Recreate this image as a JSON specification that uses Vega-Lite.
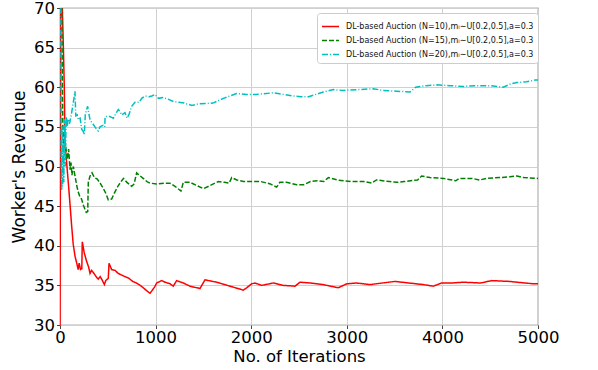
{
  "$schema": "https://vega.github.io/schema/vega-lite/v6.json",
  "width": 478,
  "height": 317,
  "autosize": {"type": "none"},
  "padding": {"left": 60, "top": 8, "right": 60, "bottom": 45},
  "background": "white",
  "config": {
    "view": {"stroke": "#666", "strokeWidth": 1.2},
    "font": "DejaVu Sans",
    "axis": {"labelFont": "DejaVu Sans", "titleFont": "DejaVu Sans", "labelColor": "#000", "titleColor": "#000", "titleFontWeight": "normal", "gridColor": "#d0d0d0", "gridWidth": 1, "domain": false, "tickColor": "#444", "tickSize": 3.5}
  },
  "data": {"values": [
    {"s":"N=10","x":0,"y":25},{"s":"N=10","x":10,"y":90},{"s":"N=10","x":20,"y":72},{"s":"N=10","x":35,"y":65.2},{"s":"N=10","x":45,"y":60},{"s":"N=10","x":52,"y":53},{"s":"N=10","x":90,"y":47.5},{"s":"N=10","x":122,"y":42.5},{"s":"N=10","x":138,"y":40.2},{"s":"N=10","x":157,"y":38.7},{"s":"N=10","x":175,"y":37.8},{"s":"N=10","x":190,"y":37},{"s":"N=10","x":200,"y":37.8},{"s":"N=10","x":215,"y":37},{"s":"N=10","x":228,"y":37.1},{"s":"N=10","x":233,"y":40.5},{"s":"N=10","x":254,"y":39.1},{"s":"N=10","x":279,"y":38},{"s":"N=10","x":300,"y":37.3},{"s":"N=10","x":314,"y":36.5},{"s":"N=10","x":330,"y":36.9},{"s":"N=10","x":350,"y":36.6},{"s":"N=10","x":384,"y":36},{"s":"N=10","x":400,"y":35.8},{"s":"N=10","x":420,"y":36.1},{"s":"N=10","x":440,"y":35.7},{"s":"N=10","x":464,"y":35.1},{"s":"N=10","x":478,"y":35.6},{"s":"N=10","x":505,"y":35.9},{"s":"N=10","x":513,"y":37.8},{"s":"N=10","x":540,"y":37},{"s":"N=10","x":575,"y":36.9},{"s":"N=10","x":610,"y":36.5},{"s":"N=10","x":645,"y":36.3},{"s":"N=10","x":680,"y":36.1},{"s":"N=10","x":720,"y":35.9},{"s":"N=10","x":760,"y":35.5},{"s":"N=10","x":800,"y":35.3},{"s":"N=10","x":850,"y":34.9},{"s":"N=10","x":900,"y":34.4},{"s":"N=10","x":941,"y":34},{"s":"N=10","x":960,"y":34.3},{"s":"N=10","x":990,"y":34.8},{"s":"N=10","x":1011,"y":35.3},{"s":"N=10","x":1063,"y":35.6},{"s":"N=10","x":1100,"y":35.4},{"s":"N=10","x":1150,"y":35.2},{"s":"N=10","x":1185,"y":34.9},{"s":"N=10","x":1220,"y":35.6},{"s":"N=10","x":1290,"y":35.3},{"s":"N=10","x":1360,"y":34.9},{"s":"N=10","x":1464,"y":34.6},{"s":"N=10","x":1517,"y":35.7},{"s":"N=10","x":1639,"y":35.4},{"s":"N=10","x":1778,"y":34.9},{"s":"N=10","x":1918,"y":34.4},{"s":"N=10","x":1953,"y":34.7},{"s":"N=10","x":2005,"y":35.2},{"s":"N=10","x":2040,"y":35.3},{"s":"N=10","x":2110,"y":35},{"s":"N=10","x":2231,"y":35.3},{"s":"N=10","x":2336,"y":35},{"s":"N=10","x":2458,"y":34.9},{"s":"N=10","x":2510,"y":35.4},{"s":"N=10","x":2615,"y":35.3},{"s":"N=10","x":2750,"y":35.1},{"s":"N=10","x":2911,"y":34.7},{"s":"N=10","x":3000,"y":35.2},{"s":"N=10","x":3100,"y":35.3},{"s":"N=10","x":3242,"y":35.1},{"s":"N=10","x":3504,"y":35.5},{"s":"N=10","x":3650,"y":35.3},{"s":"N=10","x":3800,"y":35.1},{"s":"N=10","x":3905,"y":34.9},{"s":"N=10","x":3992,"y":35.3},{"s":"N=10","x":4100,"y":35.3},{"s":"N=10","x":4220,"y":35.4},{"s":"N=10","x":4400,"y":35.3},{"s":"N=10","x":4515,"y":35.6},{"s":"N=10","x":4700,"y":35.5},{"s":"N=10","x":4950,"y":35.2},{"s":"N=10","x":5000,"y":35.2},
    {"s":"N=15","x":0,"y":95},{"s":"N=15","x":10,"y":80},{"s":"N=15","x":20,"y":68},{"s":"N=15","x":25,"y":60},{"s":"N=15","x":30,"y":55},{"s":"N=15","x":40,"y":52.2},{"s":"N=15","x":55,"y":53},{"s":"N=15","x":75,"y":50.9},{"s":"N=15","x":90,"y":52.2},{"s":"N=15","x":105,"y":49.6},{"s":"N=15","x":115,"y":50.5},{"s":"N=15","x":125,"y":48.9},{"s":"N=15","x":139,"y":50},{"s":"N=15","x":157,"y":48.8},{"s":"N=15","x":175,"y":47.6},{"s":"N=15","x":190,"y":46.8},{"s":"N=15","x":205,"y":46.3},{"s":"N=15","x":225,"y":45.9},{"s":"N=15","x":245,"y":45.1},{"s":"N=15","x":261,"y":44.6},{"s":"N=15","x":275,"y":44.2},{"s":"N=15","x":290,"y":44.3},{"s":"N=15","x":296,"y":48},{"s":"N=15","x":314,"y":48.8},{"s":"N=15","x":335,"y":49.2},{"s":"N=15","x":360,"y":48.6},{"s":"N=15","x":390,"y":48.4},{"s":"N=15","x":420,"y":47.9},{"s":"N=15","x":450,"y":47.3},{"s":"N=15","x":480,"y":46.6},{"s":"N=15","x":505,"y":45.8},{"s":"N=15","x":540,"y":45.9},{"s":"N=15","x":575,"y":46.8},{"s":"N=15","x":610,"y":47.6},{"s":"N=15","x":645,"y":48.2},{"s":"N=15","x":665,"y":48.5},{"s":"N=15","x":700,"y":48},{"s":"N=15","x":750,"y":47.5},{"s":"N=15","x":775,"y":47.8},{"s":"N=15","x":802,"y":49.2},{"s":"N=15","x":830,"y":48.9},{"s":"N=15","x":870,"y":48.5},{"s":"N=15","x":910,"y":48.1},{"s":"N=15","x":941,"y":47.9},{"s":"N=15","x":1010,"y":47.8},{"s":"N=15","x":1100,"y":47.9},{"s":"N=15","x":1150,"y":47.9},{"s":"N=15","x":1203,"y":47.5},{"s":"N=15","x":1265,"y":46.9},{"s":"N=15","x":1290,"y":48},{"s":"N=15","x":1360,"y":48},{"s":"N=15","x":1430,"y":47.6},{"s":"N=15","x":1500,"y":47.2},{"s":"N=15","x":1570,"y":47.6},{"s":"N=15","x":1656,"y":48.1},{"s":"N=15","x":1720,"y":48},{"s":"N=15","x":1770,"y":47.9},{"s":"N=15","x":1796,"y":48.6},{"s":"N=15","x":1850,"y":48.3},{"s":"N=15","x":1920,"y":48.1},{"s":"N=15","x":1990,"y":48.1},{"s":"N=15","x":2100,"y":48.1},{"s":"N=15","x":2200,"y":47.8},{"s":"N=15","x":2266,"y":47.4},{"s":"N=15","x":2300,"y":48},{"s":"N=15","x":2370,"y":48},{"s":"N=15","x":2476,"y":47.7},{"s":"N=15","x":2550,"y":47.7},{"s":"N=15","x":2620,"y":48.1},{"s":"N=15","x":2690,"y":48.2},{"s":"N=15","x":2760,"y":48.1},{"s":"N=15","x":2807,"y":48.6},{"s":"N=15","x":2900,"y":48.3},{"s":"N=15","x":3040,"y":48.1},{"s":"N=15","x":3180,"y":48.1},{"s":"N=15","x":3260,"y":47.9},{"s":"N=15","x":3310,"y":48.3},{"s":"N=15","x":3450,"y":48.1},{"s":"N=15","x":3530,"y":48},{"s":"N=15","x":3600,"y":48.1},{"s":"N=15","x":3740,"y":48.3},{"s":"N=15","x":3783,"y":48.8},{"s":"N=15","x":3870,"y":48.6},{"s":"N=15","x":4010,"y":48.5},{"s":"N=15","x":4140,"y":48.2},{"s":"N=15","x":4175,"y":48.5},{"s":"N=15","x":4310,"y":48.5},{"s":"N=15","x":4390,"y":48.3},{"s":"N=15","x":4460,"y":48.5},{"s":"N=15","x":4600,"y":48.6},{"s":"N=15","x":4707,"y":48.7},{"s":"N=15","x":4780,"y":48.8},{"s":"N=15","x":4850,"y":48.6},{"s":"N=15","x":5000,"y":48.5},
    {"s":"N=20","x":0,"y":95},{"s":"N=20","x":8,"y":75},{"s":"N=20","x":12,"y":52},{"s":"N=20","x":18,"y":47},{"s":"N=20","x":22,"y":55},{"s":"N=20","x":28,"y":47.5},{"s":"N=20","x":35,"y":53},{"s":"N=20","x":40,"y":48},{"s":"N=20","x":45,"y":56},{"s":"N=20","x":55,"y":50},{"s":"N=20","x":65,"y":56.3},{"s":"N=20","x":75,"y":55},{"s":"N=20","x":85,"y":56},{"s":"N=20","x":100,"y":55.4},{"s":"N=20","x":122,"y":56.8},{"s":"N=20","x":139,"y":58.1},{"s":"N=20","x":157,"y":59.5},{"s":"N=20","x":165,"y":56.4},{"s":"N=20","x":180,"y":56.5},{"s":"N=20","x":192,"y":55.9},{"s":"N=20","x":210,"y":56.1},{"s":"N=20","x":227,"y":54.7},{"s":"N=20","x":244,"y":54.4},{"s":"N=20","x":254,"y":54},{"s":"N=20","x":265,"y":56.6},{"s":"N=20","x":289,"y":57.6},{"s":"N=20","x":300,"y":56.8},{"s":"N=20","x":314,"y":55.9},{"s":"N=20","x":330,"y":55.6},{"s":"N=20","x":349,"y":55.3},{"s":"N=20","x":366,"y":55},{"s":"N=20","x":384,"y":54.7},{"s":"N=20","x":400,"y":54.5},{"s":"N=20","x":418,"y":55},{"s":"N=20","x":450,"y":55.2},{"s":"N=20","x":468,"y":55},{"s":"N=20","x":472,"y":56.3},{"s":"N=20","x":520,"y":56.3},{"s":"N=20","x":540,"y":56.2},{"s":"N=20","x":558,"y":56.1},{"s":"N=20","x":590,"y":56.8},{"s":"N=20","x":610,"y":57.2},{"s":"N=20","x":630,"y":56.9},{"s":"N=20","x":645,"y":56.5},{"s":"N=20","x":680,"y":56.8},{"s":"N=20","x":700,"y":56.1},{"s":"N=20","x":720,"y":56.5},{"s":"N=20","x":750,"y":57.6},{"s":"N=20","x":785,"y":58.1},{"s":"N=20","x":830,"y":58.1},{"s":"N=20","x":855,"y":58.6},{"s":"N=20","x":890,"y":58.9},{"s":"N=20","x":930,"y":58.8},{"s":"N=20","x":960,"y":58.9},{"s":"N=20","x":994,"y":59.1},{"s":"N=20","x":1030,"y":58.6},{"s":"N=20","x":1080,"y":58.7},{"s":"N=20","x":1130,"y":58.5},{"s":"N=20","x":1185,"y":58.2},{"s":"N=20","x":1300,"y":58},{"s":"N=20","x":1380,"y":57.7},{"s":"N=20","x":1450,"y":57.9},{"s":"N=20","x":1600,"y":58},{"s":"N=20","x":1709,"y":58.6},{"s":"N=20","x":1848,"y":59.2},{"s":"N=20","x":1950,"y":59.1},{"s":"N=20","x":2050,"y":59.1},{"s":"N=20","x":2232,"y":59.3},{"s":"N=20","x":2336,"y":59.1},{"s":"N=20","x":2440,"y":58.9},{"s":"N=20","x":2520,"y":58.8},{"s":"N=20","x":2600,"y":58.8},{"s":"N=20","x":2755,"y":59.4},{"s":"N=20","x":2860,"y":59.7},{"s":"N=20","x":2960,"y":59.6},{"s":"N=20","x":3100,"y":59.7},{"s":"N=20","x":3279,"y":59.8},{"s":"N=20","x":3380,"y":59.6},{"s":"N=20","x":3520,"y":59.5},{"s":"N=20","x":3662,"y":59.4},{"s":"N=20","x":3720,"y":60},{"s":"N=20","x":3830,"y":60.2},{"s":"N=20","x":3941,"y":60.3},{"s":"N=20","x":4080,"y":60.2},{"s":"N=20","x":4220,"y":60.1},{"s":"N=20","x":4360,"y":60.2},{"s":"N=20","x":4500,"y":60.2},{"s":"N=20","x":4637,"y":60},{"s":"N=20","x":4710,"y":60.4},{"s":"N=20","x":4780,"y":60.6},{"s":"N=20","x":4880,"y":60.7},{"s":"N=20","x":4970,"y":60.9},{"s":"N=20","x":5000,"y":60.9}
  ]},
  "mark": {"type": "line", "clip": true, "strokeWidth": 1.5, "interpolate": "linear"},
  "encoding": {
    "x": {"field": "x", "type": "quantitative", "scale": {"domain": [0, 5000], "nice": false},
      "axis": {"title": "No. of Iterations", "values": [0, 1000, 2000, 3000, 4000, 5000], "format": "d", "labelFontSize": 16.5, "titleFontSize": 16.5, "labelPadding": 1, "titlePadding": 2, "labelFlush": false}},
    "y": {"field": "y", "type": "quantitative", "scale": {"domain": [30, 70], "nice": false, "zero": false},
      "axis": {"title": "Worker's Revenue", "values": [30, 35, 40, 45, 50, 55, 60, 65, 70], "labelFontSize": 16.5, "titleFontSize": 17, "labelPadding": 2, "titlePadding": 5, "labelFlush": false}},
    "color": {"field": "s", "type": "nominal",
      "scale": {"domain": ["N=10", "N=15", "N=20"], "range": ["#ff0000", "#008000", "#00bfbf"]},
      "legend": {"title": null, "orient": "none", "legendX": 257, "legendY": 5, "symbolType": "stroke", "symbolSize": 289, "symbolStrokeWidth": 1.5, "labelFontSize": 8, "labelFont": "DejaVu Sans", "labelColor": "#111", "labelLimit": 400, "labelOffset": 6, "rowPadding": -5, "padding": 4, "strokeColor": "#cccccc", "fillColor": "white", "cornerRadius": 3,
        "labelExpr": "'DL-based Auction (' + datum.label + '),mᵢ∼U[0.2,0.5],a=0.3'"}},
    "strokeDash": {"field": "s", "type": "nominal",
      "scale": {"domain": ["N=10", "N=15", "N=20"], "range": [[1, 0], [5, 2], [6, 2, 1, 2]]},
      "legend": {"title": null, "orient": "none", "legendX": 257, "legendY": 5, "symbolType": "stroke", "symbolSize": 289, "symbolStrokeWidth": 1.5, "labelFontSize": 8, "labelFont": "DejaVu Sans", "labelColor": "#111", "labelLimit": 400, "labelOffset": 6, "rowPadding": -5, "padding": 4, "strokeColor": "#cccccc", "fillColor": "white", "cornerRadius": 3,
        "labelExpr": "'DL-based Auction (' + datum.label + '),mᵢ∼U[0.2,0.5],a=0.3'"}}
  }
}
